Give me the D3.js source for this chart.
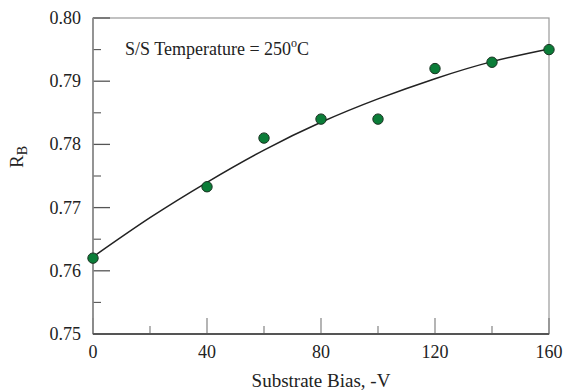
<!DOCTYPE html>
<html>
<head>
<meta charset="utf-8">
<script src="https://cdn.jsdelivr.net/npm/d3@7"></script>
<style>
  body { margin: 0; background: #fff; }
</style>
</head>
<body>
<script>
// measured points
const bias = [0, 40, 60, 80, 100, 120, 140, 160];
const rb = [0.762, 0.7733, 0.781, 0.784, 0.784, 0.792, 0.793, 0.795];
// fit line
const fitBias = [0, 20, 40, 60, 80, 100, 120, 140, 160];
const fitRb = [0.7622, 0.7684, 0.7740, 0.7791, 0.7835, 0.7872, 0.7904, 0.7931, 0.7951];
const xTicks = [0, 40, 80, 120, 160];
const xMinor = [20, 60, 100, 140];
const yTicks = [0.75, 0.76, 0.77, 0.78, 0.79, 0.80];
const yMinor = [0.755, 0.765, 0.775, 0.785, 0.795];

let W = 564, H = 391;
let m = {top: 18, right: 15, bottom: 57, left: 93};

let svg = d3.select("body").append("svg")
            .attr("width", W)
            .attr("height", H)
            .attr("font-family", "'Times New Roman', 'Liberation Serif', 'DejaVu Serif', serif")
            .style("font-family", "'Times New Roman', 'Liberation Serif', 'DejaVu Serif', serif");

let x = d3.scaleLinear().domain([0, 160]).range([m.left, W - m.right]);
let y = d3.scaleLinear().domain([0.75, 0.80]).range([H - m.bottom, m.top]);

// frame (top/right)
svg.append("rect")
   .attr("x", x(0)).attr("y", y(0.80))
   .attr("width", x(160) - x(0)).attr("height", y(0.75) - y(0.80))
   .attr("fill", "none").attr("stroke", "#999").attr("stroke-width", 1.2);

// ticks, pointing inward
let g = svg.append("g").attr("stroke", "#555");
g.selectAll(".ym").data(yTicks).enter().append("line")
 .attr("x1", x(0)).attr("x2", x(0) + 17)
 .attr("y1", d => y(d)).attr("y2", d => y(d)).attr("stroke-width", 1.3);
g.selectAll(".yn").data(yMinor).enter().append("line")
 .attr("x1", x(0)).attr("x2", x(0) + 8)
 .attr("y1", d => y(d)).attr("y2", d => y(d)).attr("stroke-width", 1.1);
g.selectAll(".xm").data(xTicks).enter().append("line")
 .attr("x1", d => x(d)).attr("x2", d => x(d))
 .attr("y1", y(0.75)).attr("y2", y(0.75) - 16).attr("stroke-width", 1.1).attr("stroke", "#777");
g.selectAll(".xn").data(xMinor).enter().append("line")
 .attr("x1", d => x(d)).attr("x2", d => x(d))
 .attr("y1", y(0.75)).attr("y2", y(0.75) - 8).attr("stroke-width", 1.1).attr("stroke", "#777");

// main axes
svg.append("line")
   .attr("x1", x(0)).attr("x2", x(0)).attr("y1", y(0.80)).attr("y2", y(0.75))
   .attr("stroke", "#888").attr("stroke-width", 1.6);
svg.append("line")
   .attr("x1", x(0)).attr("x2", x(160)).attr("y1", y(0.75)).attr("y2", y(0.75))
   .attr("stroke", "#555").attr("stroke-width", 2);

// tick labels
svg.selectAll(".yl").data(yTicks).enter().append("text")
   .attr("x", x(0) - 12).attr("y", d => y(d) + 6)
   .attr("text-anchor", "end").attr("font-size", 18).attr("fill", "#222")
   .text(d => d3.format(".2f")(d));
svg.selectAll(".xl").data(xTicks).enter().append("text")
   .attr("x", d => x(d)).attr("y", y(0.75) + 24)
   .attr("text-anchor", "middle").attr("font-size", 18).attr("fill", "#222")
   .text(d => d);

// axis titles
svg.append("text")
   .attr("x", (x(0) + x(160)) / 2).attr("y", H - 4)
   .attr("text-anchor", "middle").attr("font-size", 19).attr("fill", "#222")
   .text("Substrate Bias, -V");
let yt = svg.append("text")
   .attr("transform", "translate(23,157) rotate(-90)")
   .attr("text-anchor", "middle").attr("font-size", 19).attr("fill", "#222");
yt.append("tspan").text("R");
yt.append("tspan").attr("font-size", 14).attr("dy", 4).text("B");

// annotation
let ann = svg.append("text")
   .attr("x", 125).attr("y", 55).attr("font-size", 18).attr("fill", "#222");
ann.append("tspan").text("S/S Temperature = 250");
ann.append("tspan").attr("font-size", 12).attr("dy", -8).text("o");
ann.append("tspan").attr("dy", 8).text("C");

// fit curve
let line = d3.line()
             .x((d, i) => x(fitBias[i]))
             .y(d => y(d))
             .curve(d3.curveNatural);
svg.append("path")
   .attr("d", line(fitRb))
   .attr("fill", "none").attr("stroke", "#222").attr("stroke-width", 1.5);

// points
svg.append("g")
   .selectAll("circle")
   .data(rb)
   .enter()
   .append("circle")
   .attr("cx", (d, i) => x(bias[i]))
   .attr("cy", d => y(d))
   .attr("r", 5.2)
   .attr("fill", "#0b7d38")
   .attr("stroke", "#1a3322")
   .attr("stroke-width", 1);
</script>
</body>
</html>
